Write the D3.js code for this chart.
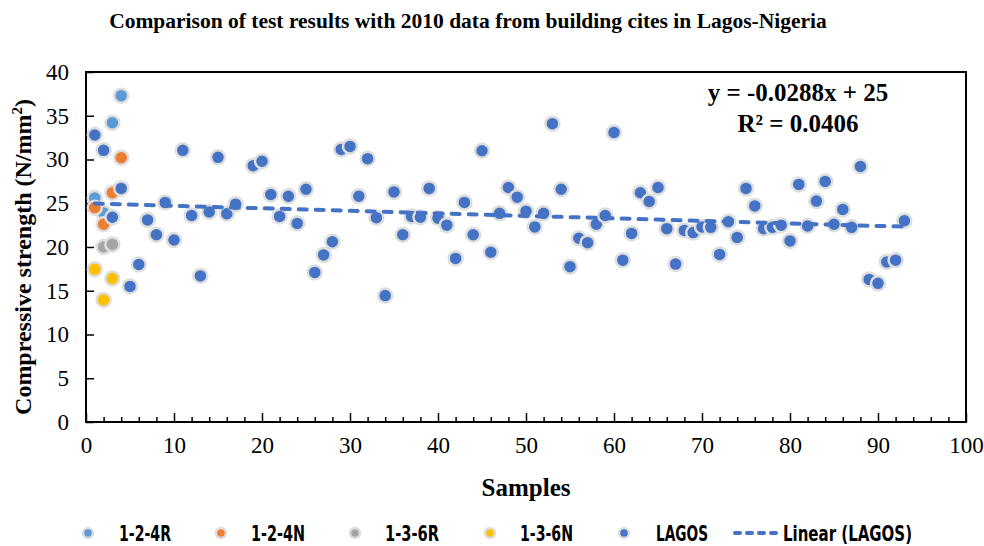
<!DOCTYPE html>
<html>
<head>
<meta charset="utf-8">
<script src="https://cdn.jsdelivr.net/npm/d3@7"></script>
<style>
  body { margin: 0; background: #fff; }
  svg { display: block; }
</style>
</head>
<body>
<div id="chart"></div>
<script>
// ---- data ----
var samples124R = [1, 2, 3, 4];
var values124R = [25.6, 23.9, 34.2, 37.3];

var samples124N = [1, 2, 3, 4];
var values124N = [24.5, 22.6, 26.2, 30.2];

var samples136R = [2, 3];
var values136R = [20.0, 20.3];

var samples136N = [1, 2, 3];
var values136N = [17.45, 13.95, 16.4];

var samplesLagos = [
  1, 2, 3, 4, 5, 6, 7, 8, 9, 10, 11, 12, 13, 14, 15, 16, 17, 19, 20,
  21, 22, 23, 24, 25, 26, 27, 28, 29, 30, 31, 32, 33, 34, 35, 36, 37, 38, 39, 40,
  41, 42, 43, 44, 45, 46, 47, 48, 49, 50, 51, 52, 53, 54, 55, 56, 57, 58, 59, 60,
  61, 62, 63, 64, 65, 66, 67, 68, 69, 70, 71, 72, 73, 74, 75, 76, 77, 78, 79, 80,
  81, 82, 83, 84, 85, 86, 87, 88, 89, 90, 91, 92, 93
];
var valuesLagos = [
  32.8, 31.05, 23.4, 26.7, 15.5, 18.0, 23.1, 21.4, 25.1, 20.8, 31.05, 23.6, 16.7, 24.0, 30.25, 23.8, 24.9, 29.3, 29.8,
  26.0, 23.5, 25.8, 22.7, 26.6, 17.1, 19.1, 20.6, 31.15, 31.5, 25.8, 30.1, 23.35, 14.45, 26.3, 21.4, 23.5, 23.4, 26.7, 23.3,
  22.5, 18.7, 25.1, 21.4, 31.0, 19.4, 23.85, 26.8, 25.7, 24.1, 22.3, 23.85, 34.1, 26.6, 17.75, 21.0, 20.5, 22.6, 23.6, 33.1,
  18.5, 21.55, 26.2, 25.2, 26.8, 22.1, 18.05, 21.9, 21.65, 22.3, 22.25, 19.15, 22.9, 21.1, 26.7, 24.7, 22.1, 22.25, 22.5, 20.7,
  27.15, 22.4, 25.25, 27.5, 22.6, 24.3, 22.25, 29.2, 16.3, 15.85, 18.3, 18.5, 23.0
];

var seriesNames = ["1-2-4R", "1-2-4N", "1-3-6R", "1-3-6N", "LAGOS"];
var seriesColors = ["#5B9BD5", "#ED7D31", "#A5A5A5", "#FFC000", "#4472C4"];

var trendSlope = -0.0288;
var trendIntercept = 25;
var trendRange = [1, 93];

var xTicks = [0, 10, 20, 30, 40, 50, 60, 70, 80, 90, 100];
var yTicks = [0, 5, 10, 15, 20, 25, 30, 35, 40];

var chartTitle = "Comparison of test results with 2010 data from building cites in Lagos-Nigeria";
var xTitle = "Samples";
var equationLines = ["y = -0.0288x + 25", "R² = 0.0406"];

function ScatterChart() {
  var width = 984,
    height = 546,
    plot = { left: 86, top: 72, right: 966, bottom: 422 },
    serif = "'Liberation Serif', 'Times New Roman', serif",
    narrow = "'Liberation Sans Narrow', 'DejaVu Sans Condensed', 'Roboto Condensed', sans-serif",
    ringColor = "#dedede";

  var svg = d3
    .select("#chart")
    .append("svg")
    .attr("width", width)
    .attr("height", height);

  var x = d3.scaleLinear().domain([0, 100]).range([plot.left, plot.right]);
  var y = d3.scaleLinear().domain([0, 40]).range([plot.bottom, plot.top]);

  // title
  svg
    .append("text")
    .attr("x", 468)
    .attr("y", 28)
    .attr("text-anchor", "middle")
    .attr("font-family", serif)
    .attr("font-weight", "bold")
    .attr("font-size", 21.5)
    .text(chartTitle);

  // frame
  svg
    .append("rect")
    .attr("x", plot.left)
    .attr("y", plot.top)
    .attr("width", plot.right - plot.left)
    .attr("height", plot.bottom - plot.top)
    .attr("fill", "none")
    .attr("stroke", "#000")
    .attr("stroke-width", 2);

  // x axis ticks (inward) + minor ticks
  var xAxis = d3
    .axisBottom(x)
    .tickValues(xTicks)
    .tickSize(-9)
    .tickPadding(15)
    .tickFormat(d3.format("d"));

  var gx = svg
    .append("g")
    .attr("transform", "translate(0," + plot.bottom + ")")
    .call(xAxis);

  var gxMinor = svg
    .append("g")
    .attr("transform", "translate(0," + plot.bottom + ")")
    .call(
      d3
        .axisBottom(x)
        .tickValues(d3.range(0, 101, 2).filter((d) => d % 10 !== 0))
        .tickSize(-5)
        .tickFormat("")
    );

  var yAxis = d3
    .axisLeft(y)
    .tickValues(yTicks)
    .tickSize(-8)
    .tickPadding(17)
    .tickFormat(d3.format("d"));

  var gy = svg
    .append("g")
    .attr("transform", "translate(" + plot.left + ",0)")
    .call(yAxis);

  [gx, gxMinor, gy].forEach(function (g) {
    g.select(".domain").remove();
    g.selectAll(".tick line").attr("stroke", "#000").attr("stroke-width", 1.5);
    g.selectAll(".tick text")
      .attr("font-family", serif)
      .attr("font-size", 23)
      .attr("fill", "#000");
  });

  // axis titles
  svg
    .append("text")
    .attr("x", 526)
    .attr("y", 496)
    .attr("text-anchor", "middle")
    .attr("font-family", serif)
    .attr("font-weight", "bold")
    .attr("font-size", 25)
    .text(xTitle);

  var yTitle = svg
    .append("text")
    .attr("transform", "translate(31,257) rotate(-90)")
    .attr("text-anchor", "middle")
    .attr("font-family", serif)
    .attr("font-weight", "bold")
    .attr("font-size", 24);
  yTitle.append("tspan").text("Compressive strength (N/mm");
  yTitle.append("tspan").attr("font-size", 15).attr("dy", -9).text("2");
  yTitle.append("tspan").attr("dy", 9).text(")");

  // series
  var allSeries = [
    { name: seriesNames[0], color: seriesColors[0], xs: samples124R, ys: values124R },
    { name: seriesNames[1], color: seriesColors[1], xs: samples124N, ys: values124N },
    { name: seriesNames[2], color: seriesColors[2], xs: samples136R, ys: values136R },
    { name: seriesNames[3], color: seriesColors[3], xs: samples136N, ys: values136N },
    { name: seriesNames[4], color: seriesColors[4], xs: samplesLagos, ys: valuesLagos },
  ];

  allSeries.forEach(function (s) {
    var pts = s.xs.map((d, i) => ({ x: d, y: s.ys[i] }));
    svg
      .append("g")
      .selectAll("circle")
      .data(pts)
      .join("circle")
      .attr("cx", (d) => x(d.x))
      .attr("cy", (d) => y(d.y))
      .attr("r", 7)
      .attr("fill", s.color)
      .attr("stroke", ringColor)
      .attr("stroke-width", 2.5);
  });

  // linear trend for LAGOS
  var trend = trendRange.map((d) => ({ x: d, y: trendSlope * d + trendIntercept }));
  svg
    .append("path")
    .datum(trend)
    .attr("fill", "none")
    .attr("stroke", seriesColors[4])
    .attr("stroke-width", 4)
    .attr("stroke-linecap", "round")
    .attr("stroke-dasharray", "8,9")
    .attr(
      "d",
      d3
        .line()
        .x((d) => x(d.x))
        .y((d) => y(d.y))
    );

  // equation
  svg
    .selectAll(".eq")
    .data(equationLines)
    .join("text")
    .attr("class", "eq")
    .attr("x", 798)
    .attr("y", (d, i) => 101 + i * 31)
    .attr("text-anchor", "middle")
    .attr("font-family", serif)
    .attr("font-weight", "bold")
    .attr("font-size", 25)
    .text((d) => d);

  // legend
  var legendY = 533;
  var legendMarkers = [88, 221, 355, 490, 624];
  var legendTextX = [119, 251, 385, 520, 656];
  var legendTextW = [52, 54, 54, 53, 52];

  var legend = svg.append("g");
  seriesNames.forEach(function (name, i) {
    legend
      .append("circle")
      .attr("cx", legendMarkers[i])
      .attr("cy", legendY)
      .attr("r", 5)
      .attr("fill", seriesColors[i])
      .attr("stroke", ringColor)
      .attr("stroke-width", 2.5);
    legend
      .append("text")
      .attr("x", legendTextX[i])
      .attr("y", legendY + 8)
      .attr("font-family", narrow)
      .attr("font-weight", "bold")
      .attr("font-size", 22)
      .attr("textLength", legendTextW[i])
      .attr("lengthAdjust", "spacingAndGlyphs")
      .text(name);
  });

  legend
    .append("line")
    .attr("x1", 735)
    .attr("x2", 779)
    .attr("y1", legendY)
    .attr("y2", legendY)
    .attr("stroke", seriesColors[4])
    .attr("stroke-width", 4)
    .attr("stroke-linecap", "round")
    .attr("stroke-dasharray", "5,7");

  legend
    .append("text")
    .attr("x", 783)
    .attr("y", legendY + 8)
    .attr("font-family", narrow)
    .attr("font-weight", "bold")
    .attr("font-size", 22)
    .attr("textLength", 129)
    .attr("lengthAdjust", "spacingAndGlyphs")
    .text("Linear (LAGOS)");
}

ScatterChart();
</script>
</body>
</html>
